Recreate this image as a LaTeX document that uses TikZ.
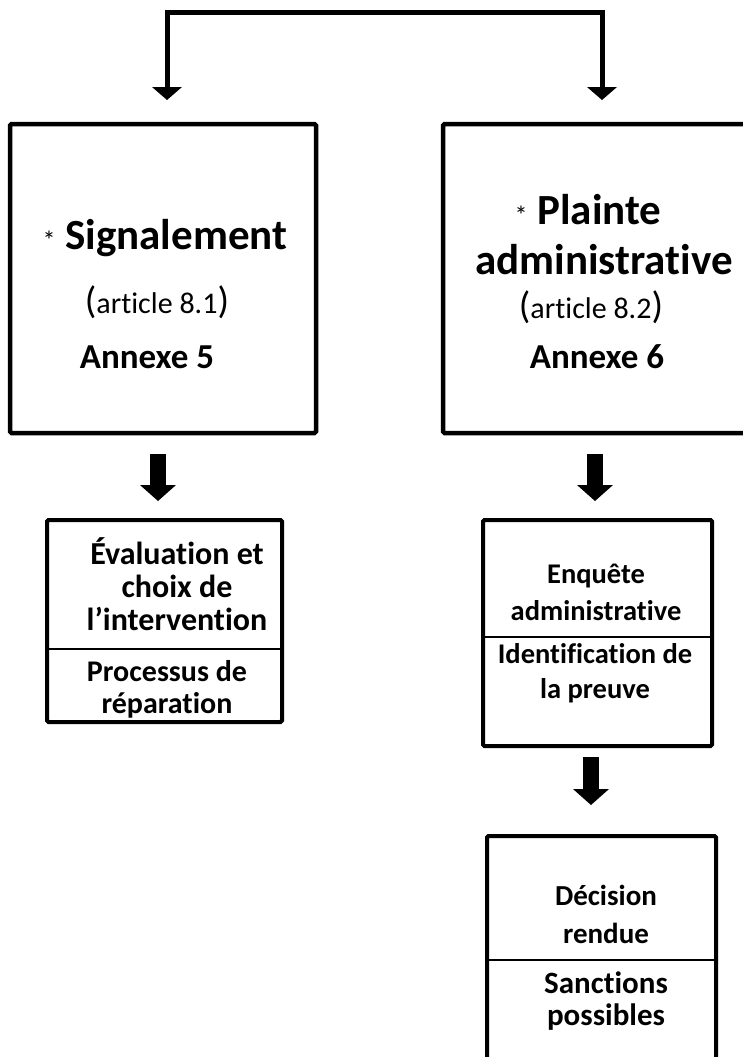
\documentclass[tikz,border=0pt]{standalone}
\usepackage{fontspec}
\setmainfont{Carlito}[Ligatures=CommonOff]
\usetikzlibrary{arrows.meta}
\newcommand{\fsz}[2]{\fontsize{#1}{#2}\selectfont}
\begin{document}
\begin{tikzpicture}[x=1pt,y=-1pt,
  bigbox/.style={draw, line width=4.5pt, rounded corners=1.5pt, inner sep=0pt},
  smallbox/.style={draw, line width=4pt, rounded corners=1.5pt, inner sep=0pt},
  divider/.style={line width=2pt},
  conn/.style={line width=5pt, -{Triangle[width=30pt,length=13pt,line width=0pt]}},
  fat/.style={line width=16pt, -{Triangle[width=36pt,length=16pt,line width=0pt]}},
  bigtxt/.style={font=\fsz{43}{50}\bfseries, inner sep=0pt},
  midtxt/.style={font=\fsz{30}{36}, inner sep=0pt},
  annx/.style={font=\fsz{35}{40}\bfseries, inner sep=0pt},
  smalltxt/.style={font=\fsz{28}{34}\bfseries, align=center, inner sep=0pt}]
\useasboundingbox (0,0) rectangle (743,1057);
\clip (0,0) rectangle (743,1057);
% boxes
\node[bigbox, minimum width=306pt, minimum height=309pt] (lbig) at (163,278.5) {};
\node[bigbox, minimum width=308pt, minimum height=309pt] (rbig) at (597,278.5) {};
\node[smallbox, minimum width=235pt, minimum height=202pt] (lsmall) at (164.5,621) {};
\node[smallbox, minimum width=229pt, minimum height=226pt] (rsmall) at (597.5,633) {};
\node[smallbox, minimum width=229pt, minimum height=244pt] (bot) at (601.5,958) {};
% dividers
\coordinate (dl) at (0,649);
\coordinate (dr) at (0,637);
\coordinate (db) at (0,960);
\draw[divider] (lsmall.west |- dl) -- (lsmall.east |- dl);
\draw[divider] (rsmall.west |- dr) -- (rsmall.east |- dr);
\draw[divider] (bot.west |- db) -- (bot.east |- db);
% top connector
\coordinate (mid) at (384,13);
\coordinate (la) at (167,100);
\coordinate (ra) at (602,100);
\draw[conn] (mid) -| (la);
\draw[conn] (mid) -| (ra);
% fat arrows
\draw[fat, shorten <=19pt, shorten >=17pt] ([xshift=-5pt]lbig.south) -- ([xshift=-6.5pt]lsmall.north);
\draw[fat, shorten <=19pt, shorten >=17pt] ([xshift=-2pt]rbig.south) -- ([xshift=-2.5pt]rsmall.north);
\draw[fat, shorten <=9pt, shorten >=29pt] ([xshift=-6.5pt]rsmall.south) -- ([xshift=-10.5pt]bot.north);
% big box texts
\node[bigtxt] (s1) at (165,238) {{\fsz{26}{30}\mdseries *}\ Signalement};
\node[midtxt] (s2) at (157,302) {{\fsz{38}{44}(}article 8.1{\fsz{38}{44})}};
\node[annx] (s3) at (147,357) {Annexe 5};
\node[bigtxt] (p1) at (588,210) {{\fsz{26}{30}\mdseries *}\ Plainte};
\node[bigtxt] (p2) at (604,260) {administrative};
\node[midtxt] (p3) at (591,307) {{\fsz{38}{44}(}article 8.2{\fsz{38}{44})}};
\node[annx] (p4) at (597,357) {Annexe 6};
% small box texts
\node[smalltxt, font=\fsz{32}{33}\bfseries] (e1) at (177,584) {Évaluation et\\choix de\\l’intervention};
\node[smalltxt, font=\fsz{30}{32}\bfseries] (e2) at (167,689) {Processus de\\réparation};
\node[smalltxt, font=\fsz{28.5}{37}\bfseries] (q1) at (596,592) {Enquête\\administrative};
\node[smalltxt, font=\fsz{28.5}{35}\bfseries] (q2) at (595,673) {Identification de\\la preuve};
\node[smalltxt, font=\fsz{29}{38}\bfseries] (d1) at (606,914) {Décision\\rendue};
\node[smalltxt, font=\fsz{31}{32}\bfseries] (d2) at (606,1001) {Sanctions\\possibles};
\end{tikzpicture}
\end{document}
